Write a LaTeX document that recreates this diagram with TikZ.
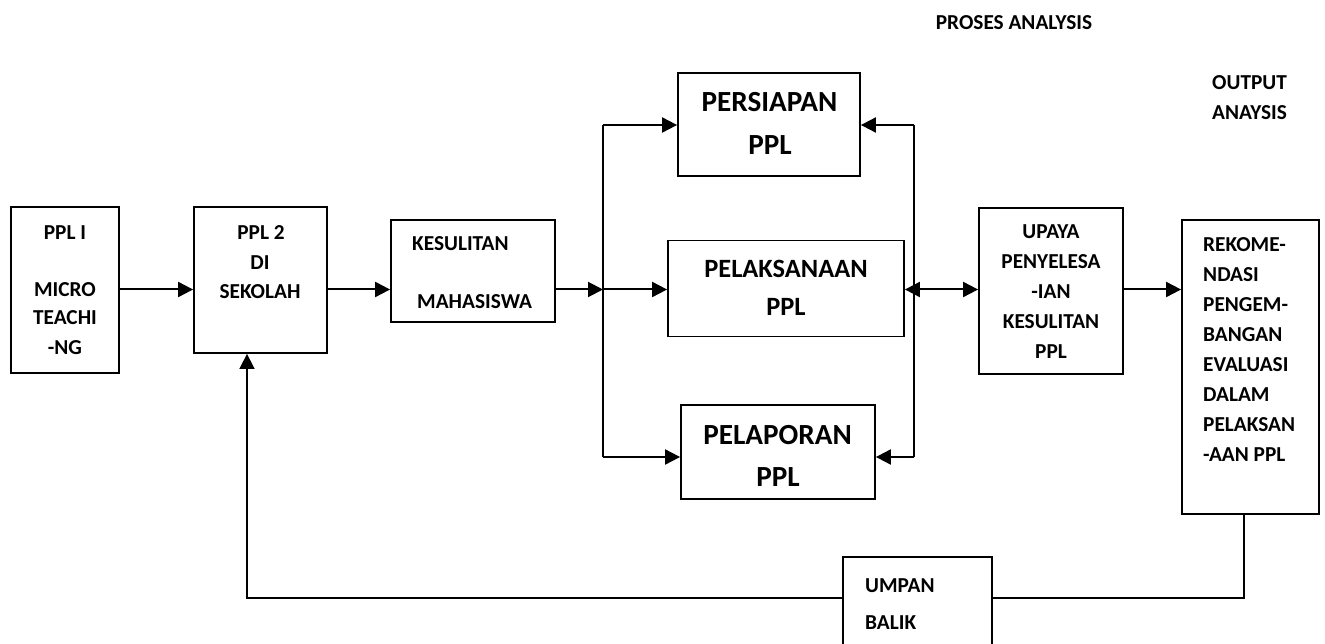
\documentclass[tikz,border=0pt]{standalone}
\usepackage{fontspec}
\setmainfont{Carlito}
\usetikzlibrary{arrows.meta}
\tikzset{
  box/.style={draw, line width=1.8pt, rectangle, inner sep=0pt},
  small/.style={font=\fontsize{21.3}{25}\selectfont\bfseries, inner sep=0pt},
  big/.style={font=\fontsize{29.2}{34}\selectfont\bfseries, inner sep=0pt},
  mid/.style={font=\fontsize{26.4}{32}\selectfont\bfseries, inner sep=0pt},
  conn/.style={line width=2pt},
  arr/.style={line width=2pt, -{Triangle[length=15pt,width=15pt]}},
  darr/.style={line width=2pt, {Triangle[length=15pt,width=15pt]}-{Triangle[length=15pt,width=15pt]}},
  fbline/.style={line width=1.6pt}
}
\begin{document}
\begin{tikzpicture}[x=1pt,y=-1pt]
\clip (0,0) rectangle (1325,644);
\fill[white] (0,0) rectangle (1325,644);
% boxes
\node[box, minimum width=108pt, minimum height=166pt] (ppl1) at (65,290) {};
\node[box, minimum width=133pt, minimum height=146pt] (ppl2) at (260.5,280) {};
\node[box, minimum width=164pt, minimum height=102pt] (kes) at (473,271) {};
\node[box, minimum width=182pt, minimum height=103pt] (pers) at (769,124.5) {};
\node[box, minimum width=236pt, minimum height=96pt] (pelak) at (786,288.5) {};
\node[box, minimum width=194pt, minimum height=94pt] (pelap) at (778,452) {};
\node[box, minimum width=144pt, minimum height=166pt] (upaya) at (1051,291) {};
\node[box, minimum width=137pt, minimum height=294pt] (reko) at (1250.5,367) {};
\node[box, minimum width=149pt, minimum height=170pt] (umpan) at (917.5,642) {};
% texts
\node[small] (t1a) at (65,233) {PPL I};
\node[small] (t1b) at (65,290) {MICRO};
\node[small] (t1c) at (65,318) {TEACHI};
\node[small] (t1d) at (65,348) {-NG};
\node[small] (t2a) at (261,233) {PPL 2};
\node[small] (t2b) at (260,263) {DI};
\node[small] (t2c) at (260,292) {SEKOLAH};
\node[small, anchor=west] (t3a) at (412,244) {KESULITAN};
\node[small, anchor=west] (t3b) at (417,302) {MAHASISWA};
\node[big] (t4a) at (769.5,102.5) {PERSIAPAN};
\node[big] (t4b) at (770,145) {PPL};
\node[mid] (t5a) at (786,269) {PELAKSANAAN};
\node[mid] (t5b) at (786,307) {PPL};
\node[big] (t6a) at (777.5,435) {PELAPORAN};
\node[big] (t6b) at (778,477) {PPL};
\node[small] (t7a) at (1051,232) {UPAYA};
\node[small] (t7b) at (1051,262) {PENYELESA};
\node[small] (t7c) at (1051,292) {-IAN};
\node[small] (t7d) at (1051,322) {KESULITAN};
\node[small] (t7e) at (1051,352) {PPL};
\node[small, anchor=west] (t8a) at (1203,245) {REKOME-};
\node[small, anchor=west] (t8b) at (1203,275) {NDASI};
\node[small, anchor=west] (t8c) at (1203,305) {PENGEM-};
\node[small, anchor=west] (t8d) at (1203,335) {BANGAN};
\node[small, anchor=west] (t8e) at (1203,365) {EVALUASI};
\node[small, anchor=west] (t8f) at (1203,395) {DALAM};
\node[small, anchor=west] (t8g) at (1203,425) {PELAKSAN};
\node[small, anchor=west] (t8h) at (1203,455) {-AAN PPL};
\node[small] (tp) at (1014,23) {PROSES ANALYSIS};
\node[small, anchor=west] (to1) at (1212,83) {OUTPUT};
\node[small, anchor=west] (to2) at (1212,113) {ANAYSIS};
\node[small, anchor=west] (tu1) at (865,586) {UMPAN};
\node[small, anchor=west] (tu2) at (865,623) {BALIK};
% junction coordinates
\coordinate (jl) at (603,289.5);
\coordinate (jlt) at (603,125);
\coordinate (jlb) at (603,457);
\coordinate (jr) at (914,289.5);
\coordinate (jrt) at (914,125);
\coordinate (jrb) at (914,457);
\coordinate (fbr) at (1244,598);
\coordinate (fbl) at (247,598);
% connectors
\draw[arr] (ppl1.east |- jl) -- (ppl2.west |- jl);
\draw[arr] (ppl2.east |- jl) -- (kes.west |- jl);
\draw[arr] (kes.east |- jl) -- (jl);
\draw[arr] (jl) -- (pelak.west |- jl);
\draw[conn] (jlt) -- (jlb);
\draw[arr] (jlt) -- (pers.west |- jlt);
\draw[arr] (jlb) -- (pelap.west |- jlb);
\draw[conn] (jrt) -- (jrb);
\draw[arr] (jrt) -- (pers.east |- jrt);
\draw[arr] (jrb) -- (pelap.east |- jrb);
\draw[darr] (pelak.east |- jr) -- (upaya.west |- jr);
\draw[arr] (upaya.east |- jr) -- (reko.west |- jr);
\draw[fbline] (fbr |- reko.south) -- (fbr) -- (umpan.east |- fbr);
\draw[fbline, -{Triangle[length=15pt,width=15pt]}] (umpan.west |- fbl) -- (fbl) -- (fbl |- ppl2.south);
\end{tikzpicture}
\end{document}
